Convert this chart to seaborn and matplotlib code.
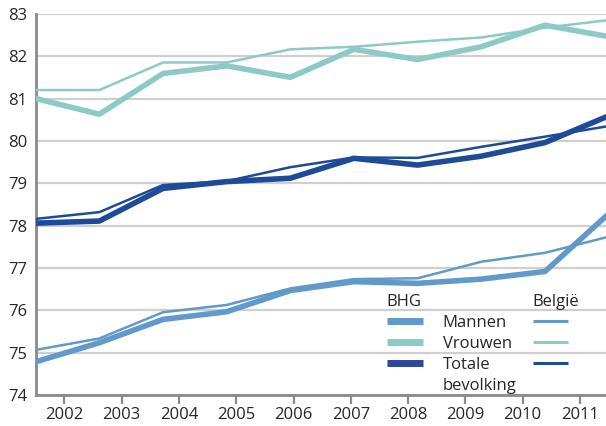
import matplotlib
matplotlib.use("Agg")
import matplotlib.pyplot as plt
import seaborn as sns
import pandas as pd
from matplotlib.lines import Line2D

# Levensverwachting bij geboorte, BHG vs België
years = list(range(2002, 2012))
bhg_mannen = [74.79, 75.24, 75.79, 75.97, 76.47, 76.68, 76.64, 76.74, 76.92, 78.28]
bhg_vrouwen = [81.0, 80.63, 81.59, 81.77, 81.5, 82.16, 81.92, 82.22, 82.73, 82.46]
bhg_totaal = [78.06, 78.11, 78.88, 79.04, 79.12, 79.59, 79.43, 79.64, 79.96, 80.59]
be_mannen = [75.07, 75.34, 75.96, 76.13, 76.52, 76.74, 76.76, 77.15, 77.36, 77.74]
be_vrouwen = [81.2, 81.2, 81.85, 81.85, 82.16, 82.22, 82.34, 82.44, 82.67, 82.85]
be_totaal = [78.16, 78.32, 78.96, 79.05, 79.38, 79.61, 79.6, 79.86, 80.1, 80.35]

labels = ['Mannen', 'Vrouwen', 'Totale']
colors = ['#6299cb', '#8dcac6', '#1f4a98']

sns.set_theme(style='white')
plt.rcParams['font.family'] = ['Open Sans', 'DejaVu Sans']

fig = plt.figure(figsize=(6.06, 4.26), dpi=100)
ax = fig.add_axes([0.0589, 0.0721, 0.9454, 0.8957])

# axis with the year labels and grid
ax.set_xlim(2001.5, 2011.5)
ax.set_ylim(74, 83)
ax.set_xticks(years)
ax.set_yticks(range(74, 84))
ax.tick_params(axis='x', direction='out', length=6.5, width=1.6, color='#8a8a8a',
               labelsize=12, pad=2, bottom=True)
ax.tick_params(axis='y', length=0, labelsize=12, pad=6)
ax.grid(axis='y', color='#cfcfcf', linewidth=1.6)
ax.grid(axis='x', visible=False)
for side in ['top', 'right']:
    ax.spines[side].set_visible(False)
for side in ['left', 'bottom']:
    ax.spines[side].set_color('#8a8a8a')
    ax.spines[side].set_linewidth(2)
    ax.spines[side].set_zorder(5)

# data drawn edge to edge on a twin axis
ax2 = ax.twiny()
ax2.set_xlim(2002, 2011)
ax2.set_ylim(74, 83)
ax2.axis('off')

thick = [bhg_mannen, bhg_vrouwen, bhg_totaal]
thin = [be_mannen, be_vrouwen, be_totaal]
for vals, c in zip(thick, colors):
    sns.lineplot(x=years, y=vals, ax=ax2, color=c, linewidth=4.0)
for vals, c in zip(thin, colors):
    sns.lineplot(x=years, y=vals, ax=ax2, color=c, linewidth=1.8)

# legends
thick_handles = [Line2D([], [], color=c, linewidth=5, solid_capstyle='butt')
                 for c in ['#6299cb', '#8dcac6', '#2e479b']]
thick_handles.append(Line2D([], [], color='none'))
leg1 = ax2.legend(thick_handles, labels + ['bevolking'], title='BHG', loc='upper left',
                  bbox_to_anchor=(0.6127, 0.265), frameon=False, fontsize=12,
                  title_fontsize=12, alignment='left', handlelength=2.15,
                  handletextpad=1.2, labelspacing=0.3, borderpad=0, borderaxespad=0)
ax2.add_artist(leg1)
thin_handles = [Line2D([], [], color=c, linewidth=2.2, solid_capstyle='butt') for c in colors]
leg2 = ax2.legend(thin_handles, [' ', ' ', ' '], title='België', loc='upper left',
                  bbox_to_anchor=(0.8672, 0.265), frameon=False, fontsize=12,
                  title_fontsize=12, alignment='left', handlelength=2.15,
                  handletextpad=0.2, labelspacing=0.3, borderpad=0, borderaxespad=0)

plt.savefig('out.png', dpi=100)
